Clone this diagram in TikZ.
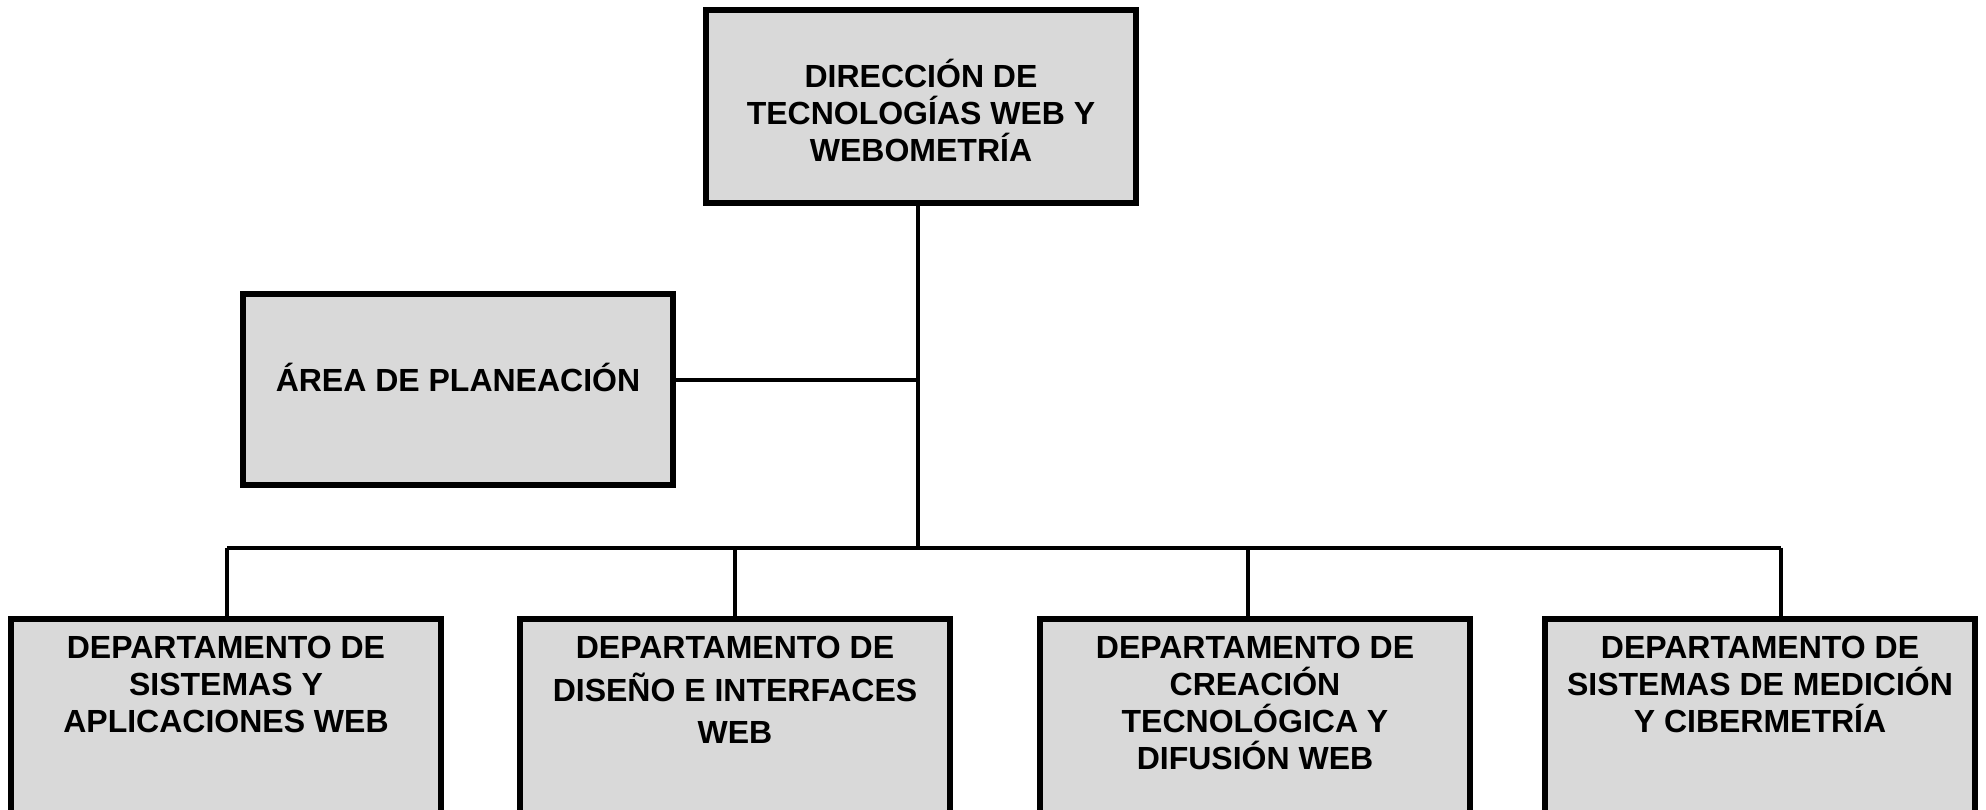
\documentclass[tikz,border=0pt]{standalone}
\usepackage{fontspec}
\setmainfont{Liberation Sans}
\definecolor{boxgray}{RGB}{217,217,217}
\begin{document}
\begin{tikzpicture}[x=1pt,y=-1pt,
  orgbox/.style={draw=black, fill=boxgray, line width=6pt, minimum width=430pt, inner sep=0pt},
  orgtext/.style={align=center, inner sep=0pt, font=\fontsize{32}{37}\selectfont\bfseries},
  conn/.style={draw=black, line width=4pt}]
\clip (0,0) rectangle (1986,809);
\fill[white] (0,0) rectangle (1986,809);
% boxes
\node[orgbox, minimum height=193pt] (top) at (921,106.5) {};
\node[orgbox, minimum height=191pt] (plan) at (457.5,389) {};
\node[orgbox, minimum height=240pt, anchor=north] (d1) at (226,616) {};
\node[orgbox, minimum height=240pt, anchor=north] (d2) at (734.5,616) {};
\node[orgbox, minimum height=240pt, anchor=north] (d3) at (1255,616) {};
\node[orgbox, minimum height=240pt, anchor=north] (d4) at (1760,616) {};
% texts
\node[orgtext] (ttop) at (921,110) {DIRECCIÓN DE\\TECNOLOGÍAS WEB Y\\WEBOMETRÍA};
\node[orgtext] (tplan) at (458,377) {ÁREA DE PLANEACIÓN};
\node[orgtext, anchor=north] (td1) at (226,636) {DEPARTAMENTO DE\\SISTEMAS Y\\APLICACIONES WEB};
\node[orgtext, anchor=north] (td2) at (735,636) {DEPARTAMENTO DE\\[6pt]DISEÑO E INTERFACES\\[5pt]WEB};
\node[orgtext, anchor=north] (td3) at (1255,636) {DEPARTAMENTO DE\\CREACIÓN\\TECNOLÓGICA Y\\DIFUSIÓN WEB};
\node[orgtext, anchor=north] (td4) at (1760,636) {DEPARTAMENTO DE\\SISTEMAS DE MEDICIÓN\\Y CIBERMETRÍA};
% connectors
\coordinate (ttrunk) at (918,203);
\coordinate (jplan) at (918,380);
\coordinate (jbus) at (918,547.5);
\coordinate (b1) at (227,547.5);
\coordinate (b2) at (735,547.5);
\coordinate (b3) at (1248,547.5);
\coordinate (b4) at (1781,547.5);
\draw[conn] (ttrunk) -- (jbus);
\draw[conn] (jplan) -- (jplan -| plan.east);
\draw[conn] (b1) -- (b4);
\draw[conn] (b1) -- (b1 |- d1.north);
\draw[conn] (b2) -- (b2 |- d2.north);
\draw[conn] (b3) -- (b3 |- d3.north);
\draw[conn] (b4) -- (b4 |- d4.north);
\end{tikzpicture}
\end{document}
